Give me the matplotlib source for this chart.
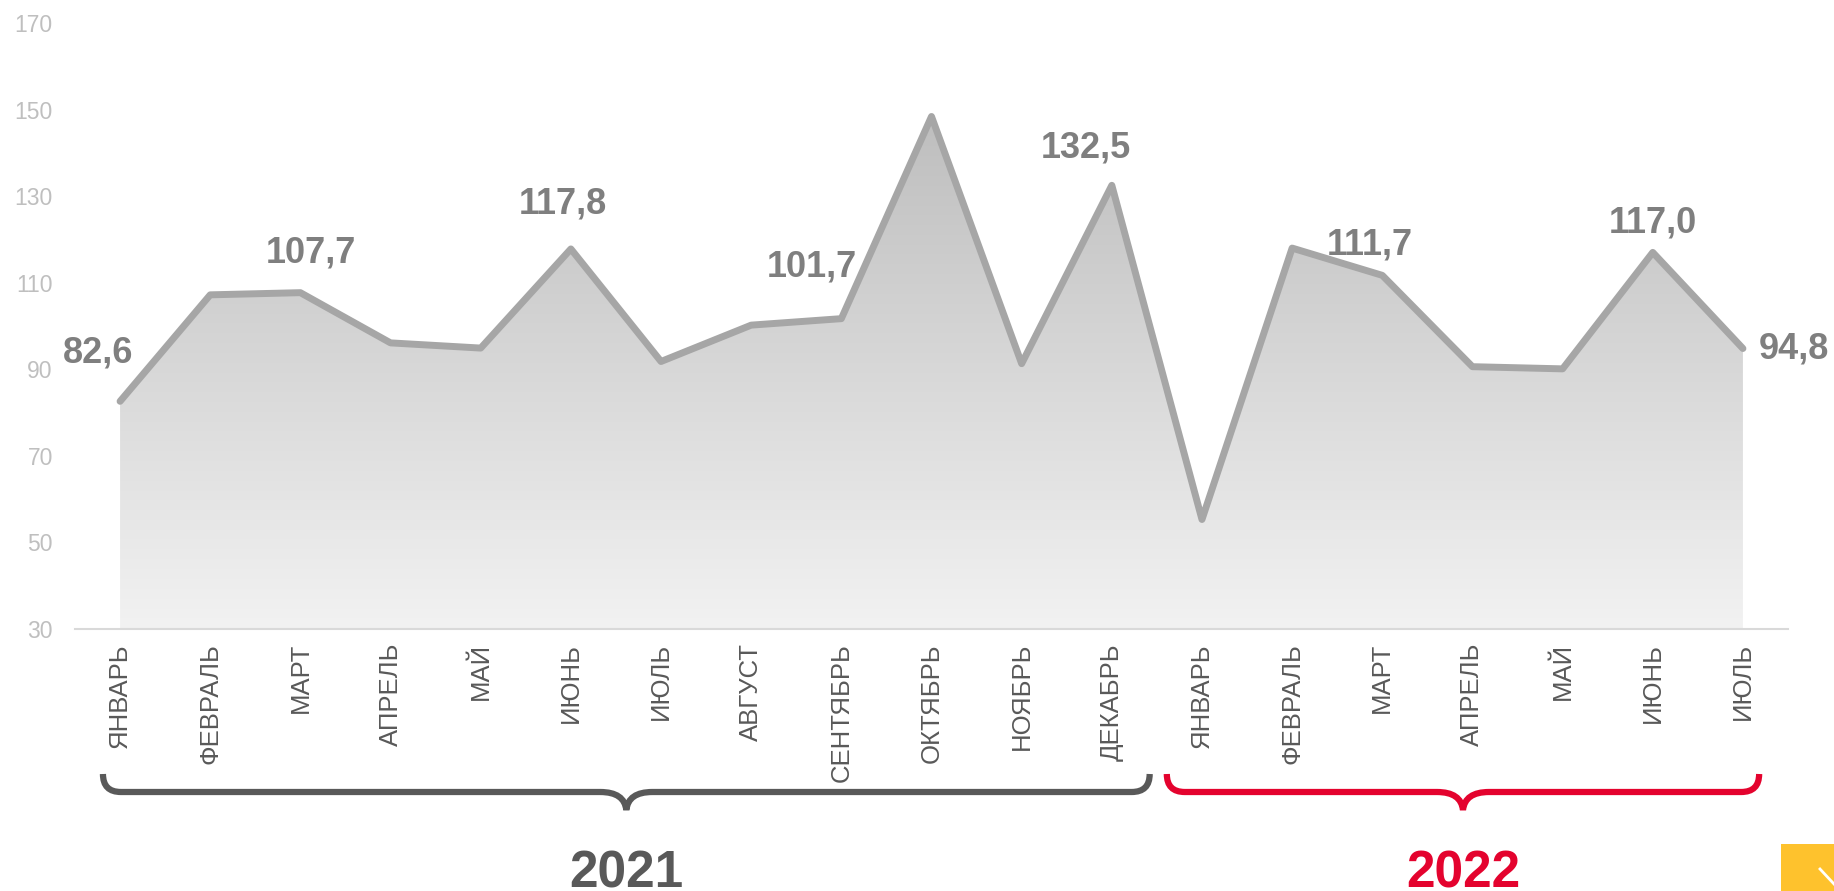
import numpy as np
import matplotlib
matplotlib.use("Agg")
import matplotlib.pyplot as plt
from matplotlib.path import Path
from matplotlib.patches import PathPatch, Rectangle, Polygon
from matplotlib.colors import LinearSegmentedColormap
from matplotlib.transforms import IdentityTransform

# --- данные ---
months = ["ЯНВАРЬ", "ФЕВРАЛЬ", "МАРТ", "АПРЕЛЬ", "МАЙ", "ИЮНЬ", "ИЮЛЬ",
          "АВГУСТ", "СЕНТЯБРЬ", "ОКТЯБРЬ", "НОЯБРЬ", "ДЕКАБРЬ",
          "ЯНВАРЬ", "ФЕВРАЛЬ", "МАРТ", "АПРЕЛЬ", "МАЙ", "ИЮНЬ", "ИЮЛЬ"]
values_2021 = [82.6, 107.2, 107.7, 96.1, 94.9, 117.8, 91.8, 100.2, 101.7, 148.4, 91.3, 132.5]
values_2022 = [55.3, 118.0, 111.7, 90.6, 90.1, 117.0, 94.8]
years = ["2021", "2022"]
year_colors = ["#595959", "#e4032e"]
labelled = [0, 2, 5, 8, 11, 14, 17, 18]
yticks = [30, 50, 70, 90, 110, 130, 150, 170]

# смещения подписей (в пикселях)
label_offsets = {0: (-22, 48), 2: (11, 40), 5: (-8, 45), 8: (-29, 52),
                 11: (-26, 37), 14: (-12, 30), 17: (0, 29), 18: (51, 0)}

plt.rcParams["font.family"] = ["Liberation Sans", "DejaVu Sans"]

values = values_2021 + values_2022
x = np.arange(len(values))

W, H = 1834, 891
fig = plt.figure(figsize=(W / 100, H / 100), dpi=100)
ax = fig.add_axes([75 / W, 262 / H, 1713 / W, 606 / H])
ax.set_xlim(-0.5, len(values) - 0.5)
ax.set_ylim(30, 170)

# заливка с градиентом
cmap = LinearSegmentedColormap.from_list("g", ["#f2f2f2", "#bebebe"])
grad = np.linspace(0, 1, 256).reshape(-1, 1)
im = ax.imshow(grad, extent=[x[0], x[-1], 30, max(values)], origin="lower",
               aspect="auto", cmap=cmap, zorder=1)
poly = Polygon(np.column_stack([np.r_[x, x[-1], x[0]], np.r_[values, 30, 30]]),
               closed=True, facecolor="none", edgecolor="none")
ax.add_patch(poly)
im.set_clip_path(poly)
ax.set_xlim(-0.5, len(values) - 0.5)
ax.set_ylim(30, 170)

ax.plot(x, values, color="#a6a6a6", lw=5, solid_joinstyle="round",
        solid_capstyle="round", zorder=3, clip_on=False)

for i in labelled:
    dx, dy = label_offsets[i]
    txt = f"{values[i]:.1f}".replace(".", ",")
    ax.annotate(txt, (x[i], values[i]), xytext=(dx, dy), textcoords="offset pixels",
                ha="center", va="center", fontsize=26, fontweight="bold",
                color="#7f7f7f", zorder=4, annotation_clip=False)

for s in ["top", "right", "left"]:
    ax.spines[s].set_visible(False)
ax.spines["bottom"].set_color("#d9d9d9")
ax.spines["bottom"].set_linewidth(1.5)

ax.set_yticks(yticks)
ax.tick_params(axis="y", length=0, pad=16, labelsize=16.5, labelcolor="#bfbfbf")
ax.set_xticks(x)
ax.set_xticklabels(months, rotation=90)
ax.tick_params(axis="x", length=0, pad=10, labelsize=18.5, labelcolor="#595959")

# фигурные скобки под годами
def brace(x0, x1, color):
    px0 = ax.transData.transform((x0, 30))[0]
    px1 = ax.transData.transform((x1, 30))[0]
    xm = (px0 + px1) / 2
    y_top, y_line, y_tip, r, s = 117, 99, 81, 18, 26
    verts = [(px0, y_top), (px0, y_line), (px0 + r, y_line),
             (xm - s, y_line),
             (xm - 2, y_line), (xm, y_tip),
             (xm + 2, y_line), (xm + s, y_line),
             (px1 - r, y_line),
             (px1, y_line), (px1, y_top)]
    codes = [Path.MOVETO, Path.CURVE3, Path.CURVE3, Path.LINETO,
             Path.CURVE3, Path.CURVE3, Path.CURVE3, Path.CURVE3,
             Path.LINETO, Path.CURVE3, Path.CURVE3]
    fig.patches.append(PathPatch(Path(verts, codes), transform=IdentityTransform(),
                                 facecolor="none", edgecolor=color, lw=4.5,
                                 capstyle="butt", figure=fig))
    return xm

group_ranges = [(0 - 0.19, 11 + 0.42), (12 - 0.39, 18 + 0.18)]
for (g0, g1), year, col in zip(group_ranges, years, year_colors):
    xm = brace(g0, g1, col)
    fig.text(xm / W, 4 / H, year, ha="center", va="baseline", fontsize=37,
             fontweight="bold", color=col)

# жёлтый значок в углу
fig.patches.append(Rectangle((1781 / W, 0), 53 / W, 47 / H, transform=fig.transFigure,
                             facecolor="#fec22d", edgecolor="none", figure=fig))
fig.lines.append(plt.Line2D([1820 / W, 1834 / W], [22 / H, 7 / H], transform=fig.transFigure,
                            color="white", lw=2, figure=fig))

fig.savefig("out.png", dpi=100)
